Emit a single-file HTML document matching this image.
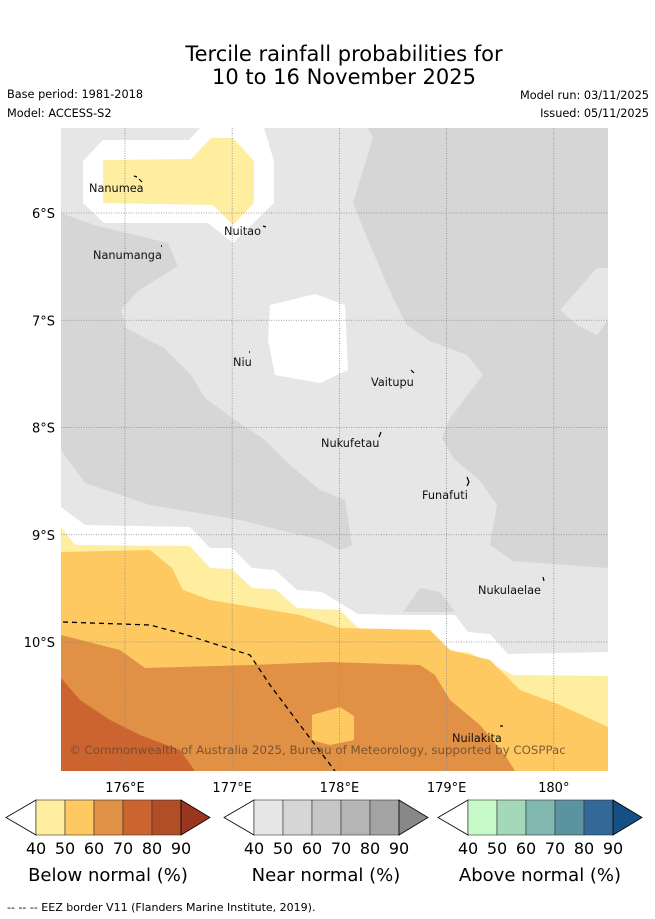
<!DOCTYPE html>
<html><head><meta charset="utf-8">
<style>
body{margin:0;background:#fff;width:655px;height:919px;overflow:hidden;font-family:"DejaVu Sans","Liberation Sans",sans-serif;}
svg{display:block}
text{font-family:"DejaVu Sans","Liberation Sans",sans-serif;}
</style></head>
<body>
<svg id="chart" width="655" height="919" viewBox="0 0 655 919" xmlns="http://www.w3.org/2000/svg">
<text x="344" y="61" font-size="21" text-anchor="middle">Tercile rainfall probabilities for</text>
<text x="344" y="84" font-size="21" text-anchor="middle">10 to 16 November 2025</text>
<text x="7" y="98" font-size="11.3">Base period: 1981-2018</text>
<text x="7" y="117" font-size="11.3">Model: ACCESS-S2</text>
<text x="649" y="99" font-size="11.3" text-anchor="end">Model run: 03/11/2025</text>
<text x="649" y="117" font-size="11.3" text-anchor="end">Issued: 05/11/2025</text>

<defs><clipPath id="mapclip"><rect x="61" y="128" width="547" height="643"/></clipPath></defs>
<g clip-path="url(#mapclip)">
<rect x="61" y="128" width="547" height="643" fill="#e6e6e6"/>
<polygon fill="#d6d6d6" points="61,213 94,225 168,243 178,266 138,291 121,310 126,328 164,348 191,375 205,398 235,420 265,440 290,465 320,490 345,500 352,545 340,550 320,540 240,520 150,505 85,483 61,450"/>
<polygon fill="#d6d6d6" points="368,128 373,138 353,203 370,245 393,298 407,325 430,341 467,355 483,375 450,418 442,438 453,458 480,481 497,505 490,545 513,561 608,568 608,128"/>
<polygon fill="#e6e6e6" points="608,268 597,268 560,310 577,325 597,335 608,320"/>
<polygon fill="#d6d6d6" points="403,612 420,588 440,592 455,612"/>
<polygon fill="#ffffff" points="270,305 315,294 345,305 348,370 320,383 275,375 268,340"/>
<polygon fill="#ffffff" points="83,161 103,140 189,140 200,128 264,128 274,161 274,203 233,243 208,223 104,223 83,203"/>
<polygon fill="#ffeda0" points="103,160 191,159 211,138 233,138 254,161 254,203 233,225 213,205 103,203"/>
<polygon fill="#ffffff" points="61,507 85,525 190,527 210,548 232,548 252,568 275,570 297,590 322,592 358,614 403,615 455,615 468,632 490,634 508,654 608,652 608,771 61,771"/>
<polygon fill="#ffeda0" points="61,527 75,545 190,546 210,568 232,569 252,588 275,589 297,608 340,610 360,630 425,630 445,652 468,652 513,675 608,676 608,771 61,771"/>
<polygon fill="#fec960" points="61,552 150,550 172,568 183,590 210,600 300,615 340,628 430,630 450,650 490,660 520,690 560,705 608,727 608,771 61,771"/>
<polygon fill="#e09145" points="61,635 120,650 145,668 250,665 330,662 420,665 435,675 450,700 480,725 505,755 515,771 61,771"/>
<polygon fill="#fec960" points="312,715 340,707 354,716 354,740 330,745 312,740"/>
<polygon fill="#cc6430" points="61,678 80,700 110,720 140,735 180,750 195,771 61,771"/>
<g id="gridlines"></g>
<polyline fill="none" stroke="#000" stroke-width="1.3" stroke-dasharray="5,4" points="63,622 150,625 180,633 250,655 270,685 300,725 335,771"/>
<g font-size="11.3" fill="#111">
<text x="89" y="192">Nanumea</text><path d="M134,176 l3,1 M139,179 l3,3" stroke="#000" stroke-width="1.2"/>
<text x="224" y="235">Nuitao</text><path d="M263,226 l3,1" stroke="#000" stroke-width="1.2"/>
<text x="93" y="259">Nanumanga</text><path d="M161,246 l1,0" stroke="#000" stroke-width="1.5"/>
<text x="233" y="366">Niu</text><path d="M249,352 l1,0" stroke="#000" stroke-width="1.5"/>
<text x="371" y="386">Vaitupu</text><path d="M411,370 l3,3" stroke="#000" stroke-width="1.2"/>
<text x="321" y="447">Nukufetau</text><path d="M379,437 l2,-5" stroke="#000" stroke-width="1.2"/>
<text x="422" y="499">Funafuti</text><path d="M467,477 l2,5 l-2,4" stroke="#000" stroke-width="1.2" fill="none"/>
<text x="478" y="594">Nukulaelae</text><path d="M543,577 l1,4" stroke="#000" stroke-width="1.2"/>
<text x="452" y="742">Nuilakita</text><path d="M500,726 l3,0" stroke="#000" stroke-width="1.2"/>
</g>
<text x="69" y="754" font-size="11.8" fill="#6b4a30" opacity="0.85">© Commonwealth of Australia 2025, Bureau of Meteorology, supported by COSPPac</text>
</g>
<g id="axes"></g>
<g id="colorbars"></g>
<text x="7" y="911" font-size="11">--  --  -- EEZ border V11 (Flanders Marine Institute, 2019).</text>
</svg>
<script>
const lonTicks = [176, 177, 178, 179, 180];
const lonLabels = ["176°E", "177°E", "178°E", "179°E", "180°"];
const latTicks = [6, 7, 8, 9, 10];
const latLabels = ["6°S", "7°S", "8°S", "9°S", "10°S"];
const cbTicks = ["40", "50", "60", "70", "80", "90"];
const belowColors = ["#ffeda0", "#fec960", "#e09145", "#cc6430", "#b04e26", "#9a3620"];
const nearColors = ["#e6e6e6", "#d6d6d6", "#c6c6c6", "#b5b5b5", "#a3a3a3", "#888888"];
const aboveColors = ["#c8f9c8", "#a4d8bb", "#82b8b2", "#5b93a0", "#336897", "#154f86"];
const cbTitles = ["Below normal (%)", "Near normal (%)", "Above normal (%)"];

const NS = "http://www.w3.org/2000/svg";
const xScale = lon => 125 + (lon - 176) * 107.2;
const yScale = lat => 213 + (lat - 6) * 107.25;
function mk(tag, attrs, parent) { const e = document.createElementNS(NS, tag); for (const k in attrs) e.setAttribute(k, attrs[k]); parent.appendChild(e); return e; }

const grid = document.getElementById('gridlines');
const axesG = document.getElementById('axes');
lonTicks.forEach((lon, i) => {
  const x = xScale(lon);
  const l = mk('line', {x1: x, x2: x, y1: 128, y2: 771, stroke: '#888', 'stroke-width': 0.8, 'stroke-dasharray': '1,1.5'}, grid);
  
  
  const t = mk('text', {x: x, y: 792, 'font-size': 13, 'text-anchor': 'middle'}, axesG);
  t.textContent = lonLabels[i];
  
  
});
latTicks.forEach((lat, i) => {
  const y = yScale(lat);
  const l = mk('line', {x1: 61, x2: 608, y1: y, y2: y, stroke: '#888', 'stroke-width': 0.8, 'stroke-dasharray': '1,1.5'}, grid);
  
  
  const t = mk('text', {x: 55, y: y + 5, 'font-size': 13, 'text-anchor': 'end'}, axesG);
  t.textContent = latLabels[i];
  
  
});

const cbg = document.getElementById('colorbars');
const cbStarts = [36, 254, 468];
const cbSets = [belowColors, nearColors, aboveColors];
const segW = 145 / 5, cbTop = 800, cbBot = 835, cbMid = 817.5;
cbSets.forEach((cols, ci) => {
  const x0 = cbStarts[ci];
  const g = mk('g', {}, cbg);
  
  
  const lt = mk('polygon', {points: `${x0},${cbTop} ${x0-30},${cbMid} ${x0},${cbBot}`, fill: '#fff', stroke: '#000', 'stroke-width': 0.8}, g);
  
  
  for (let i = 0; i < 5; i++) {
    const r = mk('rect', {x: x0 + i * segW, y: cbTop, width: segW, height: cbBot - cbTop, fill: cols[i], stroke: '#333', 'stroke-width': 0.6}, g);
    
    
  }
  const rt = mk('polygon', {points: `${x0+145},${cbTop} ${x0+174},${cbMid} ${x0+145},${cbBot}`, fill: cols[5], stroke: '#000', 'stroke-width': 0.8}, g);
  
  
  cbTicks.forEach((tk, i) => {
    const t = mk('text', {x: x0 + i * segW, y: 854, 'font-size': 16, 'text-anchor': 'middle'}, g);
    t.textContent = tk;
    
    
  });
  const tt = mk('text', {x: x0 + 72, y: 881, 'font-size': 18, 'text-anchor': 'middle'}, g);
  tt.textContent = cbTitles[ci];
  
  
});
</script>
</body></html>
